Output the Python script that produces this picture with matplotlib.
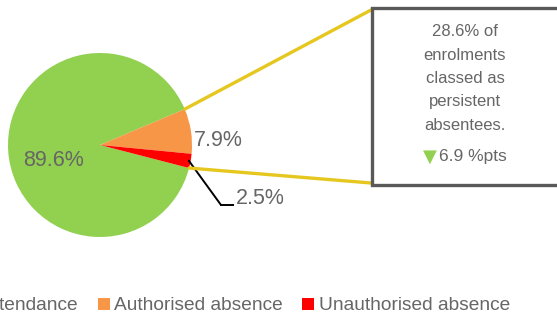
import numpy as np
import matplotlib.pyplot as plt
from matplotlib.patches import Patch, Rectangle, ConnectionPatch
from matplotlib.lines import Line2D

plt.rcParams['font.family'] = ['Liberation Sans', 'DejaVu Sans']

categories = ['Attendance', 'Authorised absence', 'Unauthorised absence']
shares = [89.6, 7.9, 2.5]
colors = ['#92D050', '#F79646', '#FF0000']
box_lines = ['28.6% of', 'enrolments', 'classed as', 'persistent', 'absentees.']
change_pts = 6.9

TEXT = '#666666'
W, H = 557, 320

fig = plt.figure(figsize=(W / 100, H / 100), dpi=100)

# pie sits in a square axes, centre (100, 145) px, radius 92 px
cx, cy, r = 100, 145, 92
ax = fig.add_axes([(cx - r) / W, (H - cy - r) / H, 2 * r / W, 2 * r / H])
start = -14.5
wedges, _ = ax.pie(shares, colors=colors, startangle=start, counterclock=False,
                   radius=1.0, wedgeprops=dict(linewidth=0))
ax.set_xlim(-1, 1)
ax.set_ylim(-1, 1)
ax.axis('off')

# wedge angles (degrees, math convention)
def edge(theta):
    t = np.radians(theta)
    return np.cos(t), np.sin(t)

a_att_end = start - 360 * shares[0] / 100
a_auth_end = a_att_end - 360 * shares[1] / 100
top_pt = edge(a_att_end + 360)
bot_pt = edge(start)

ax.text(-0.51, -0.17, f'{shares[0]:.1f}%', fontsize=15.5, color=TEXT,
        ha='center', va='center')
ax.text(1.02, 0.05, f'{shares[1]:.1f}%', fontsize=15.5, color=TEXT,
        ha='left', va='center')

# leader line for the small slice
px = lambda x, y: (x / W, 1 - y / H)
unauth_mid = (a_auth_end + start - 360) / 2
mx, my = edge(unauth_mid)
con = ConnectionPatch(xyA=(mx * 0.98, my * 0.98), coordsA=ax.transData,
                      xyB=px(221, 205), coordsB=fig.transFigure,
                      color='black', lw=1.4)
fig.add_artist(con)
fig.add_artist(Line2D([221 / W, 233 / W], [1 - 205 / H] * 2,
                      transform=fig.transFigure, color='black', lw=1.4))
fig.text(236 / W, 1 - 199 / H, f'{shares[2]:.1f}%', fontsize=15.5,
         color=TEXT, ha='left', va='center')

# callout box joined to the absence slices
box_l, box_t, box_b = 372, 8, 185
fig.add_artist(ConnectionPatch(xyA=top_pt, coordsA=ax.transData,
                               xyB=px(box_l - 1, box_t + 2), coordsB=fig.transFigure,
                               color='#E5C71F', lw=2.4))
fig.add_artist(ConnectionPatch(xyA=bot_pt, coordsA=ax.transData,
                               xyB=px(box_l - 1, box_b - 2), coordsB=fig.transFigure,
                               color='#E5C71F', lw=2.4))
fig.add_artist(Rectangle((box_l / W, 1 - box_b / H), (W + 50 - box_l) / W,
                         (box_b - box_t) / H, transform=fig.transFigure,
                         facecolor='white', edgecolor='#595959', lw=2.4,
                         clip_on=False))

for i, line in enumerate(box_lines):
    fig.text(465 / W, 1 - (32 + 23.3 * i) / H, line, fontsize=12,
             color=TEXT, ha='center', va='center')
fig.text(430 / W, 1 - 157 / H, '\u25BC', fontsize=13, color='#92D050',
         ha='center', va='center', family=['DejaVu Sans'])
fig.text(439 / W, 1 - 157 / H, f'{change_pts} %pts', fontsize=12.5,
         color=TEXT, ha='left', va='center')

handles = [Patch(facecolor=c, edgecolor='none') for c in colors]
fig.legend(handles, categories, loc='center', ncol=3, frameon=False,
           bbox_to_anchor=(238 / W, 1 - 306 / H), fontsize=13.8,
           labelcolor=TEXT, handlelength=0.6, handleheight=0.6,
           handletextpad=0.25, columnspacing=1.0)

fig.savefig('out.png', dpi=100)
